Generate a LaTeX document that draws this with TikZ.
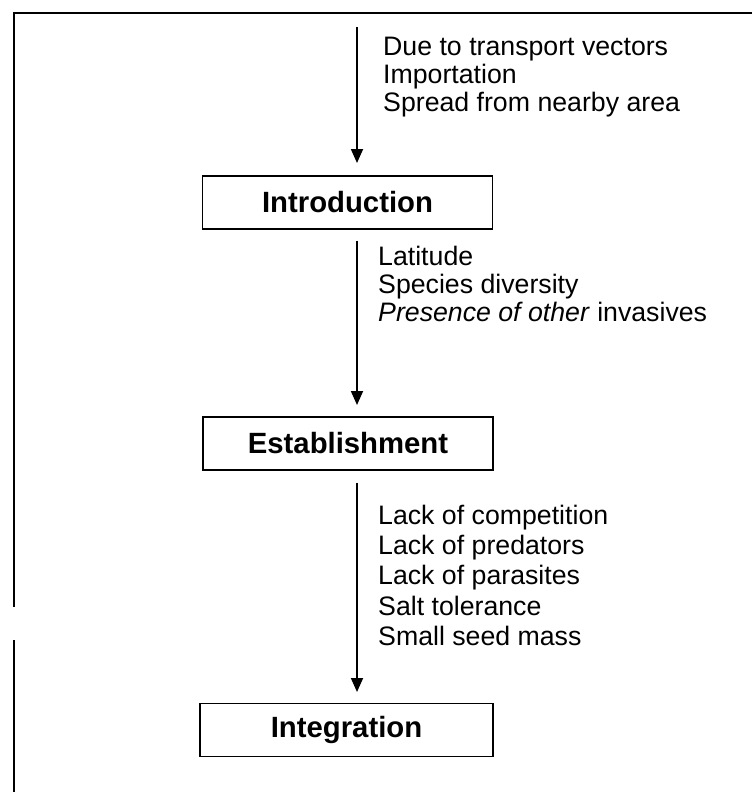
\documentclass[tikz,border=0pt]{standalone}
\usepackage{fontspec}
\setmainfont{Liberation Sans}
\usetikzlibrary{arrows.meta}
\begin{document}
\begin{tikzpicture}[x=1pt,y=-1pt,
  stage/.style={draw, line width=1.4pt, minimum width=290pt, minimum height=53pt,
    inner sep=0pt, font=\fontsize{29.3}{32}\selectfont\bfseries},
  factors/.style={anchor=north west, inner sep=0pt, align=left,
    font=\fontsize{26.7}{28}\selectfont},
  flow/.style={line width=1.8pt, -{Triangle[width=12pt,length=14pt]}},
  frame/.style={line width=1.8pt}]
  \useasboundingbox (0,0) rectangle (752,792);
  % open frame around the chart
  \coordinate (ftl) at (14,13);
  \coordinate (ftr) at (752,13);
  \coordinate (fl1) at (14,607);
  \coordinate (fl2) at (14,640);
  \coordinate (fbl) at (14,792);
  \draw[frame] (ftr) -- (ftl) -- (fl1);
  \draw[frame] (fl2) -- (fbl);
  % stages
  \node[stage] (intro) at (347.5,202.5) {Introduction};
  \node[stage] (estab) at (348,443.5) {Establishment};
  \node[stage, minimum width=293pt] (integ) at (346.5,730) {Integration};
  % arrows between stages
  \coordinate (start) at (357,27);
  \coordinate (tip1) at (357,163);
  \coordinate (tip2) at (357,405);
  \coordinate (tip3) at (357,692);
  \draw[flow] (start) -- (tip1);
  \draw[flow] (intro.south -| start) ++(0,11) -- (tip2);
  \draw[flow] (estab.south -| start) ++(0,12) -- (tip3);
  % factors for each step
  \node[factors] (f1) at (383,37) {Due to transport vectors\\Importation\\Spread from nearby area};
  \node[factors] (f2) at (378,246) {Latitude\\Species diversity\\\textit{Presence of other} invasives};
  \node[factors, font=\fontsize{26.7}{30.2}\selectfont] (f3) at (378,505) {Lack of competition\\Lack of predators\\Lack of parasites\\Salt tolerance\\Small seed mass};
\end{tikzpicture}
\end{document}
